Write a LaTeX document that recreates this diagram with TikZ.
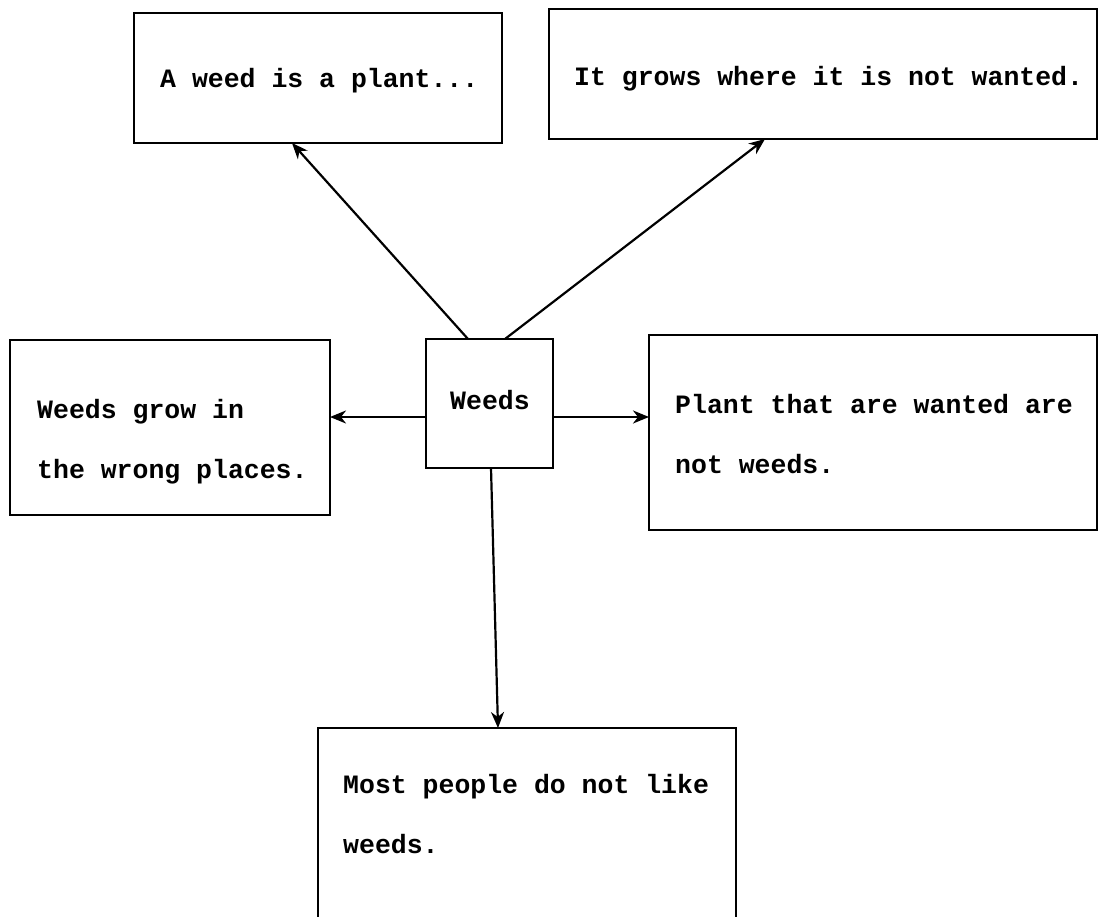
\documentclass[tikz,border=0pt]{standalone}
\usepackage{fontspec}
\setmonofont{Liberation Mono}
\usetikzlibrary{arrows.meta}
\begin{document}
\begin{tikzpicture}[x=1pt,y=-1pt,
  box/.style={draw, line width=2pt, inner sep=0pt, outer sep=0pt},
  txt/.style={inner sep=0pt, anchor=base west, align=left,
    font=\ttfamily\bfseries\fontsize{26.5pt}{60pt}\selectfont},
  conn/.style={line width=2.2pt, -{Stealth[length=16pt,width=13pt,inset=5pt]}}]
\useasboundingbox (0,0) rectangle (1100,917);
% boxes
\node[box, minimum width=368pt, minimum height=130pt] (B1) at (318,78) {};
\node[box, minimum width=548pt, minimum height=130pt] (B2) at (823,74) {};
\node[box, minimum width=127pt, minimum height=129pt] (W) at (489.5,403.5) {};
\node[box, minimum width=320pt, minimum height=175pt] (L) at (170,427.5) {};
\node[box, minimum width=448pt, minimum height=195pt] (R) at (873,432.5) {};
\node[box, minimum width=418pt, minimum height=217pt] (D) at (527,836.5) {};
% texts (base anchor = baseline of the last line)
\node[txt] (t1) at (160,88) {A weed is a plant...};
\node[txt] (t2) at (574,86) {It grows where it is not wanted.};
\node[txt, anchor=base] (tw) at (490,409) {Weeds};
\node[txt] (tl) at (37,478) {Weeds grow in\\the wrong places.};
\node[txt] (tr) at (675,473) {Plant that are wanted are\\not weeds.};
\node[txt] (td) at (343,853) {Most people do not like\\weeds.};
% connectors
\draw[conn] ([xshift=-21.5pt]W.north) -- ([xshift=-26pt]B1.south);
\draw[conn] ([xshift=15.5pt]W.north) -- ([xshift=-58pt]B2.south);
\draw[conn] ([yshift=-13.5pt]W.west) -- ([yshift=10.5pt]L.east);
\draw[conn] ([yshift=-13.5pt]W.east) -- ([yshift=15.5pt]R.west);
\draw[conn] ([xshift=1.5pt]W.south) -- ([xshift=-29pt]D.north);
\end{tikzpicture}
\end{document}
